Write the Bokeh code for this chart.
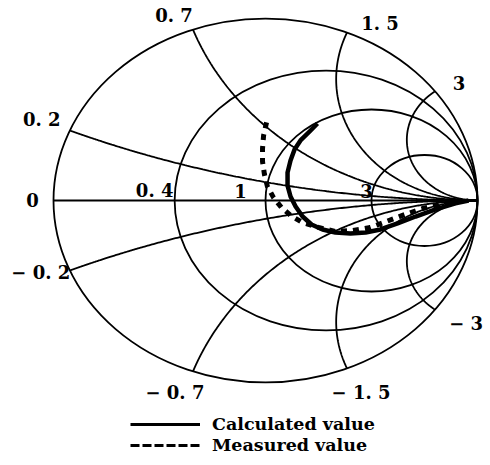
import numpy as np
from bokeh.plotting import figure
from bokeh.models import Range1d, Legend, LegendItem
from bokeh.core.properties import value
from bokeh.embed import file_html
from bokeh.resources import INLINE

# ---- Smith chart grid values ----
resistance_circles = [0.0, 0.4, 1.0, 3.0]
reactance_arcs = [0.0, 0.2, 0.7, 1.5, 3.0, -0.2, -0.7, -1.5, -3.0]

# ---- tick labels ----
reactance_label_values = [0.0, 0.2, 0.7, 1.5, 3.0, -0.2, -0.7, -1.5, -3.0]
reactance_labels = ["0", "0. 2", "0. 7", "1. 5", "3", "\u2212 0. 2", "\u2212 0. 7", "\u2212 1. 5", "\u2212 3"]
resistance_label_values = [0.4, 1.0, 3.0]
resistance_labels = ["0. 4", "1", "3"]

# ---- data: reflection coefficient (real, imaginary) ----
calc_re = [0.245, 0.208, 0.165, 0.137, 0.118, 0.104, 0.104, 0.118, 0.142, 0.175, 0.217,
           0.269, 0.330, 0.401, 0.472, 0.542, 0.623, 0.708, 0.802, 0.896, 0.958]
calc_im = [0.423, 0.379, 0.330, 0.280, 0.220, 0.154, 0.082, 0.022, -0.033, -0.088, -0.132,
           -0.159, -0.176, -0.181, -0.176, -0.159, -0.126, -0.088, -0.049, -0.016, 0.0]
meas_re = [0.005, -0.009, -0.014, -0.014, -0.005, 0.009, 0.038, 0.075, 0.118, 0.175,
           0.250, 0.330, 0.410, 0.495, 0.571, 0.646, 0.741, 0.835, 0.929]
meas_im = [0.429, 0.357, 0.286, 0.214, 0.143, 0.077, 0.016, -0.038, -0.082, -0.121,
           -0.148, -0.170, -0.165, -0.148, -0.115, -0.082, -0.044, -0.016, 0.0]

series_names = ["Calculated value", "Measured value"]

# ---- layout (screen-pixel label offsets) ----
reactance_label_dx = [-21, -28, -19, 33, 24, -29, -18, 14, 31]
reactance_label_dy = [0, -11, -14, -9, -8, 2, 21, 24, 14]
resistance_label_dx = [-20, -25, -5]
resistance_label_dy = [-10, -9, -9]

FONT = "DejaVu Serif"

p = figure(width=486, height=462,
           x_range=Range1d(-1.25, 1.04245), y_range=Range1d(-1.43956, 1.0989),
           output_backend="svg", toolbar_location=None, min_border=0,
           x_axis_location=None, y_axis_location=None,
           outline_line_color=None, background_fill_color="white",
           border_fill_color="white")
p.grid.visible = False


def gamma(z):
    return (z - 1) / (z + 1)


# resistance circles
rc = np.array(resistance_circles)
p.ellipse(x=rc / (1 + rc), y=np.zeros_like(rc), width=2 / (1 + rc), height=2 / (1 + rc),
          fill_color=None, line_color="black", line_width=1.8)

# reactance arcs (and the real axis)
rr = np.concatenate([[0.0], np.logspace(-3, 4, 700)])
xs, ys = [], []
for xv in reactance_arcs:
    g = gamma(rr + 1j * xv)
    if xv == 0:
        g = np.concatenate([g, [1.0 + 0j]])
    xs.append(g.real)
    ys.append(g.imag)
p.multi_line(xs, ys, line_color="black", line_width=1.8)

# labels
gl = gamma(1j * np.array(reactance_label_values))
p.text(x=gl.real, y=gl.imag, text=reactance_labels,
       x_offset=reactance_label_dx, y_offset=reactance_label_dy,
       text_align="center", text_baseline="middle",
       text_font=value(FONT), text_font_style="bold", text_font_size="18px",
       text_color="black")
gr = gamma(np.array(resistance_label_values) + 0j)
p.text(x=gr.real, y=gr.imag, text=resistance_labels,
       x_offset=resistance_label_dx, y_offset=resistance_label_dy,
       text_align="center", text_baseline="middle",
       text_font=value(FONT), text_font_style="bold", text_font_size="18px",
       text_color="black")

# data curves
calc = p.line(calc_re, calc_im, line_color="black", line_width=4.5, line_join="round")
meas = p.line(meas_re, meas_im, line_color="black", line_width=5, line_dash="6 6")

# legend key styles (renderers with no visible data, used only for the legend samples)
calc_key = p.line(x=[np.nan, np.nan], y=[np.nan, np.nan], line_color="black", line_width=3)
meas_key = p.line(x=[np.nan, np.nan], y=[np.nan, np.nan], line_color="black", line_width=3,
                  line_dash="9 3")

legend = Legend(items=[LegendItem(label=series_names[0], renderers=[calc_key]),
                       LegendItem(label=series_names[1], renderers=[meas_key])],
                location=(130, 7), glyph_width=70, glyph_height=20, label_height=20,
                label_standoff=12, spacing=1, padding=0, margin=0,
                border_line_color=None, background_fill_alpha=0,
                label_text_font=FONT, label_text_font_style="bold",
                label_text_font_size="17.5px", label_text_color="black")
p.add_layout(legend)

open("out.html", "w").write(file_html(p, INLINE))
